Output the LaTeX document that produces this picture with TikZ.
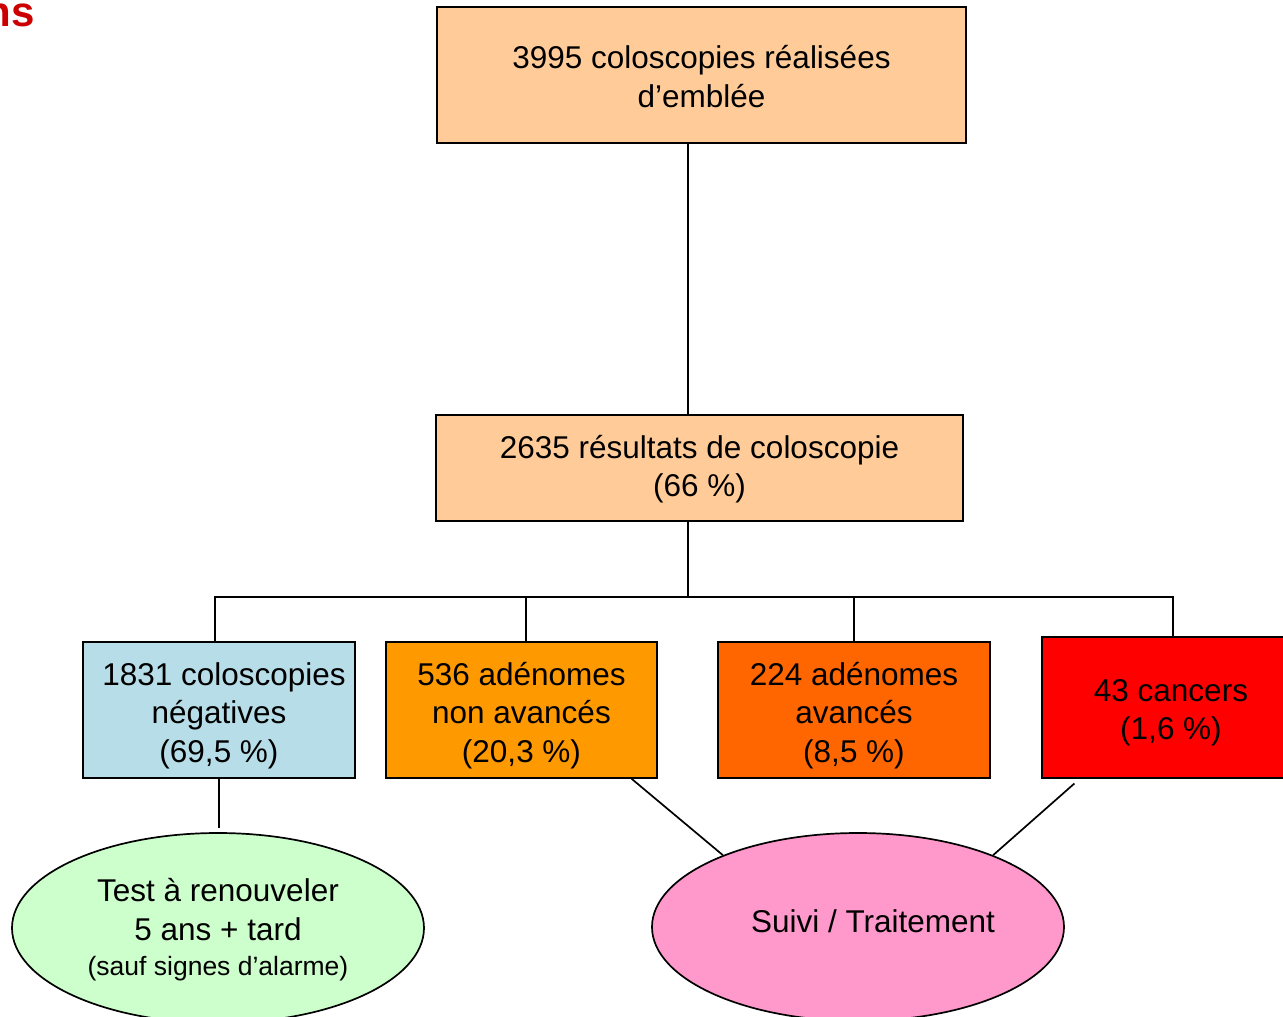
\documentclass[tikz,border=0pt]{standalone}
\usepackage{fontspec}
\setmainfont{Liberation Sans}
\usetikzlibrary{shapes.geometric}

\definecolor{peach}{HTML}{FFCC99}
\definecolor{negblue}{HTML}{B7DEE8}
\definecolor{adnorange}{HTML}{FF9900}
\definecolor{advorange}{HTML}{FF6600}
\definecolor{cancerred}{HTML}{FF0000}
\definecolor{testgreen}{HTML}{CCFFCC}
\definecolor{suivipink}{HTML}{FF99CC}
\definecolor{titlered}{HTML}{CC0000}

\tikzset{
  txt/.style={font=\fontsize{31.5}{38.5}\selectfont, align=center, text=black, inner sep=0pt},
  box/.style={draw=black, line width=1.7pt, rectangle, inner sep=0pt},
  oval/.style={draw=black, line width=1.7pt, ellipse, inner sep=0pt,
               minimum width=412pt},
  link/.style={draw=black, line width=1.7pt},
}

\begin{document}
\begin{tikzpicture}[x=1pt, y=-1pt]
  \useasboundingbox (0,0) rectangle (1283,1017);
  \clip (0,0) rectangle (1283,1017);

  % heading fragment at the top-left edge
  \node[anchor=base east, inner sep=0pt, text=titlered,
        font=\fontsize{42}{50}\selectfont\bfseries] (head) at (35,27) {ns};

  % boxes
  \node[box, fill=peach, minimum width=529pt, minimum height=136pt] (top) at (701.5,75) {};
  \node[txt] (toptxt) at ([yshift=-1.5pt]top.center) {3995 coloscopies réalisées\\d’emblée};

  \node[box, fill=peach, minimum width=527pt, minimum height=106pt] (mid) at (699.5,468) {};
  \node[txt] (midtxt) at ([yshift=-1pt]mid.center) {2635 résultats de coloscopie\\(66 \%)};

  \node[box, fill=negblue, minimum width=272pt, minimum height=136pt] (b1) at (219,710) {};
  \node[txt] (b1txt) at ([yshift=-5.5pt]b1.center) {\hspace*{10pt}1831 coloscopies\\négatives\\(69,5 \%)};

  \node[box, fill=adnorange, minimum width=271pt, minimum height=136pt] (b2) at (521.5,710) {};
  \node[txt] (b2txt) at ([yshift=-5.5pt]b2.center) {536 adénomes\\non avancés\\(20,3 \%)};

  \node[box, fill=advorange, minimum width=272pt, minimum height=136pt] (b3) at (854,710) {};
  \node[txt] (b3txt) at ([yshift=-5.5pt]b3.center) {224 adénomes\\avancés\\(8,5 \%)};

  \node[box, fill=cancerred, minimum width=258pt, minimum height=141pt] (b4) at (1171,707.5) {};
  \node[txt] (b4txt) at ([yshift=-5.5pt]b4.center) {43 cancers\\(1,6 \%)};

  % outcome ovals
  \node[oval, fill=testgreen, minimum height=190pt] (e1) at (218,928) {};
  \node[txt] (e1txt) at ([yshift=-2pt]e1.center)
    {Test à renouveler\\5 ans + tard\\[-3pt]{\fontsize{26.5}{30}\selectfont(sauf signes d’alarme)}};

  \node[oval, fill=suivipink, minimum height=188pt] (e2) at (858,927) {};
  \node[txt] (e2txt) at ([xshift=15pt,yshift=6pt]e2.center) {Suivi / Traitement};

  % tree connectors
  \coordinate (j) at (688,597);
  \draw[link] (top.south -| j) -- (mid.north -| j);
  \draw[link] (mid.south -| j) -- (j);
  \draw[link] ([xshift=-4pt]b1.north) |- ([xshift=2pt]b4.north |- j) -- ([xshift=2pt]b4.north);
  \draw[link] ([xshift=4.5pt]b2.north) -- ([xshift=4.5pt]b2.north |- j);
  \draw[link] (b3.north) -- (b3.north |- j);

  % links towards the outcomes
  \coordinate (t1) at (219,828);
  \draw[link] (b1.south) -- (t1);
  \draw[link] (b2.-32.6) -- (e2.152);
  \draw[link, shorten <=7pt] (b4.-142) -- (e2.28);
\end{tikzpicture}
\end{document}
